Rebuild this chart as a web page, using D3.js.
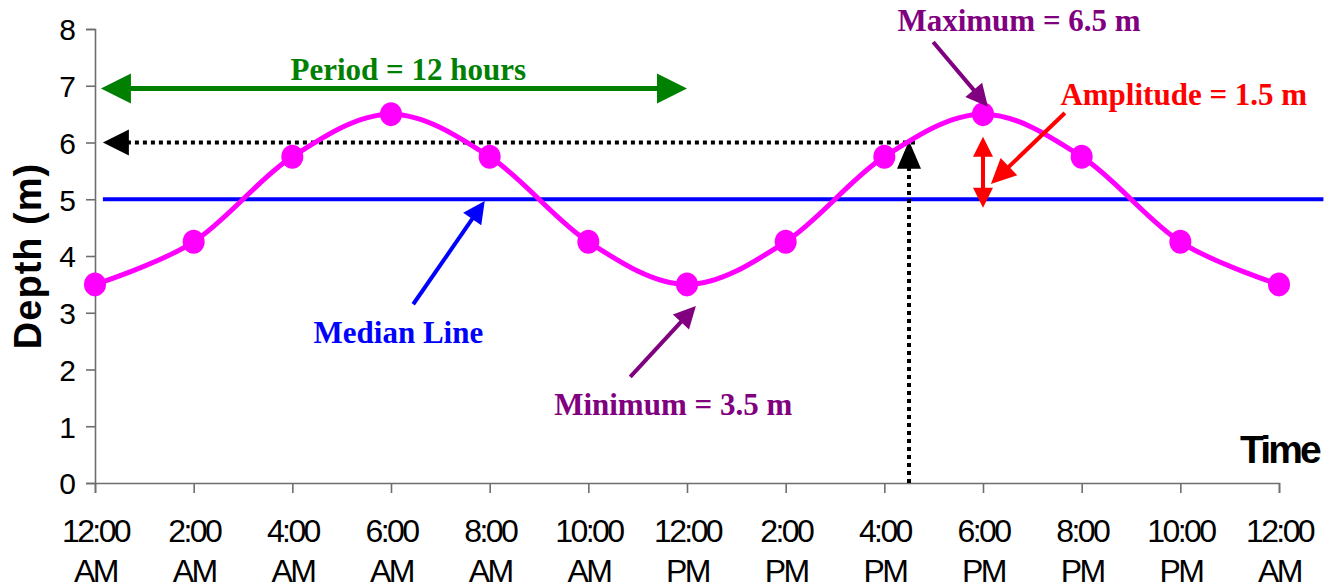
<!DOCTYPE html>
<html>
<head>
<meta charset="utf-8">
<script src="https://cdn.jsdelivr.net/npm/d3@7"></script>
<style>
  html, body { margin: 0; padding: 0; background: #fff; }
  svg { display: block; }
</style>
</head>
<body>
<svg id="chart" width="1337" height="586"></svg>
<script>
// ---- data ----
const hours = [0, 2, 4, 6, 8, 10, 12, 14, 16, 18, 20, 22, 24];
const depths = [3.5, 4.25, 5.75, 6.5, 5.75, 4.25, 3.5, 4.25, 5.75, 6.5, 5.75, 4.25, 3.5];
const tickTimes = ["12:00", "2:00", "4:00", "6:00", "8:00", "10:00", "12:00", "2:00", "4:00", "6:00", "8:00", "10:00", "12:00"];
const tickHalves = ["AM", "AM", "AM", "AM", "AM", "AM", "PM", "PM", "PM", "PM", "PM", "PM", "AM"];
const yTicks = [0, 1, 2, 3, 4, 5, 6, 7, 8];
const medianDepth = 5;
const periodStart = 0.12, periodEnd = 12.0, periodLevel = 6.95;
const guideDepth = 6, guideHour = 16.5;

const svg = d3.select("#chart");
const x = d3.scaleLinear().domain([0, 24]).range([95, 1279]);
const y = d3.scaleLinear().domain([0, 8]).range([483, 29]);

const SANS = "'Liberation Sans', Arial, sans-serif";
const SERIF = "'Liberation Serif', 'Times New Roman', serif";

// arrow helper: line from (x1,y1) to tip (x2,y2) with filled head
function arrow(g, x1, y1, x2, y2, color, width, headLen, headHalf, dash, doubleHead) {
  const dx = x2 - x1, dy = y2 - y1, L = Math.hypot(dx, dy);
  const ux = dx / L, uy = dy / L, nx = -uy, ny = ux;
  const sx = doubleHead ? x1 + ux * headLen * 0.9 : x1;
  const sy = doubleHead ? y1 + uy * headLen * 0.9 : y1;
  const ex = x2 - ux * headLen * 0.9, ey = y2 - uy * headLen * 0.9;
  const ln = g.append("line").attr("x1", sx).attr("y1", sy).attr("x2", ex).attr("y2", ey)
    .attr("stroke", color).attr("stroke-width", width);
  if (dash) ln.attr("stroke-dasharray", dash);
  const head = (tx, ty, ax, ay) => {
    const bx = tx - ax * headLen, by = ty - ay * headLen;
    g.append("path").attr("d",
      `M${tx},${ty}L${bx + nx * headHalf},${by + ny * headHalf}L${bx - nx * headHalf},${by - ny * headHalf}Z`)
      .attr("fill", color);
  };
  head(x2, y2, ux, uy);
  if (doubleHead) head(x1, y1, -ux, -uy);
}

// ---- axes ----
const yAxis = d3.axisLeft(y).tickValues(yTicks).tickSize(9).tickPadding(10).tickFormat(d3.format("d"));
const gy = svg.append("g").attr("transform", `translate(${x(0)},0)`).call(yAxis);
gy.select(".domain").attr("stroke", "#6e6e6e").attr("stroke-width", 1.6);
gy.selectAll(".tick line").attr("stroke", "#6e6e6e").attr("stroke-width", 1.6);
gy.selectAll(".tick text").attr("font-family", SANS).attr("font-size", 30).attr("fill", "#000").attr("dy", "0.36em");

const xAxis = d3.axisBottom(x).tickValues(hours).tickSize(10).tickFormat(() => "");
const gx = svg.append("g").attr("transform", `translate(0,${y(0)})`).call(xAxis);
gx.select(".domain").attr("stroke", "#6e6e6e").attr("stroke-width", 1.6);
gx.selectAll(".tick line").attr("stroke", "#6e6e6e").attr("stroke-width", 1.6);
gx.selectAll(".tick").each(function (d, i) {
  const t = d3.select(this).append("text").attr("font-family", SANS).attr("font-size", 32)
    .attr("fill", "#000").attr("text-anchor", "middle").attr("letter-spacing", "-2.6px");
  t.append("tspan").attr("x", 0).attr("y", 59).text(tickTimes[i]);
  t.append("tspan").attr("x", 0).attr("y", 99).text(tickHalves[i]);
});

// axis titles
svg.append("text").attr("transform", `translate(41,${y(4.0)}) rotate(-90)`)
  .attr("text-anchor", "middle").attr("font-family", SANS).attr("font-weight", "bold")
  .attr("font-size", 38).attr("letter-spacing", "1px").attr("fill", "#000").text("Depth (m)");
svg.append("text").attr("x", 1319).attr("y", 463).attr("text-anchor", "end")
  .attr("font-family", SANS).attr("font-weight", "bold").attr("font-size", 39)
  .attr("letter-spacing", "-2.8px").attr("fill", "#000").text("Time");

// ---- median line ----
svg.append("line").attr("x1", x(0.16)).attr("x2", x(24.9))
  .attr("y1", y(medianDepth)).attr("y2", y(medianDepth))
  .attr("stroke", "#0000ff").attr("stroke-width", 4);

// ---- guide dotted lines ----
const ann = svg.append("g");
arrow(ann, x(16.62), y(guideDepth), x(0.16), y(guideDepth), "#000", 4, 26, 13, "4,4");
arrow(ann, x(guideHour), y(0), x(guideHour), y(6.03), "#000", 4, 28, 12, "4,4");

// ---- period arrow ----
arrow(ann, x(periodStart + 0.6), y(periodLevel), x(periodEnd), y(periodLevel), "#008000", 5, 30, 15);
arrow(ann, x(periodEnd - 0.6), y(periodLevel), x(periodStart), y(periodLevel), "#008000", 5, 30, 15);
ann.append("text").attr("x", x(6.35)).attr("y", y(7.1)).attr("text-anchor", "middle")
  .attr("font-family", SERIF).attr("font-weight", "bold").attr("font-size", 31)
  .attr("fill", "#008000").text("Period = 12 hours");

// ---- series ----
const line = d3.line().x((d, i) => x(hours[i])).y(d => y(d)).curve(d3.curveCardinal.tension(0));
svg.append("path").datum(depths).attr("d", line).attr("fill", "none")
  .attr("stroke", "#ff00ff").attr("stroke-width", 5);
svg.append("g").selectAll("ellipse").data(depths).join("ellipse")
  .attr("cx", (d, i) => x(hours[i])).attr("cy", d => y(d))
  .attr("rx", 11).attr("ry", 12).attr("fill", "#ff00ff");

// ---- annotations ----
const notes = svg.append("g");
// median
arrow(notes, x(6.45), y(3.15), x(7.9), y(4.97), "#0000ff", 4, 22, 11);
notes.append("text").attr("x", x(6.15)).attr("y", y(2.47)).attr("text-anchor", "middle")
  .attr("font-family", SERIF).attr("font-weight", "bold").attr("font-size", 31)
  .attr("fill", "#0000ff").text("Median Line");
// minimum
arrow(notes, x(10.85), y(1.87), x(12.18), y(3.12), "#800080", 4, 22, 11);
notes.append("text").attr("x", x(11.72)).attr("y", y(1.2)).attr("text-anchor", "middle")
  .attr("font-family", SERIF).attr("font-weight", "bold").attr("font-size", 31)
  .attr("fill", "#800080").text("Minimum = 3.5 m");
// maximum
arrow(notes, x(16.99), y(7.77), x(18.1), y(6.63), "#800080", 4, 22, 11);
notes.append("text").attr("x", x(18.73)).attr("y", y(7.96)).attr("text-anchor", "middle")
  .attr("font-family", SERIF).attr("font-weight", "bold").attr("font-size", 31)
  .attr("fill", "#800080").text("Maximum = 6.5 m");
// amplitude
arrow(notes, x(19.66), y(6.52), x(18.16), y(5.27), "#ff0000", 4, 25, 12);
arrow(notes, x(18.0), y(4.85), x(18.0), y(6.1), "#ff0000", 4, 20, 10, null, true);
notes.append("text").attr("x", x(22.07)).attr("y", y(6.66)).attr("text-anchor", "middle")
  .attr("font-family", SERIF).attr("font-weight", "bold").attr("font-size", 31)
  .attr("fill", "#ff0000").text("Amplitude = 1.5 m");
</script>
</body>
</html>
